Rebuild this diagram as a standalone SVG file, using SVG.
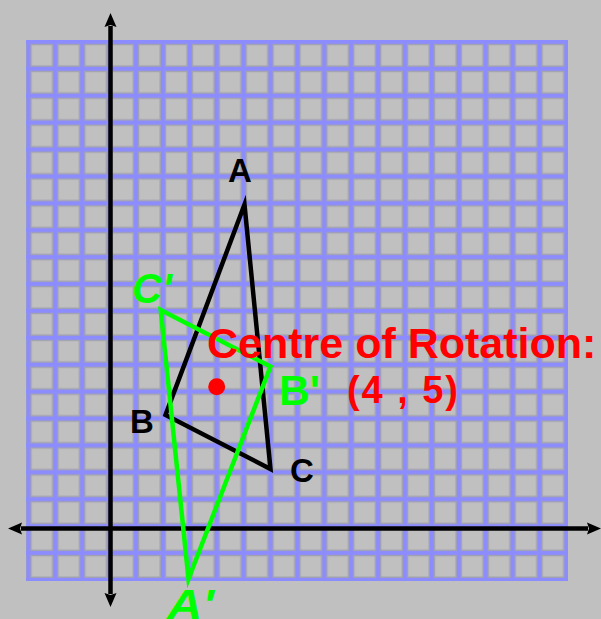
<svg xmlns="http://www.w3.org/2000/svg" width="601" height="619" viewBox="0 0 601 619">
<style>
.lbl{font-family:"Liberation Sans",Arial,sans-serif;font-weight:bold;}
.blk{fill:#000;font-size:33px;}
.grn{fill:#00ff00;font-size:42px;}
.it{font-style:italic;}
.red{fill:#ff0000;}
.axis{stroke:#000;stroke-width:4.5;fill:none;}
.tri{fill:none;stroke-width:4.5;stroke-linejoin:miter;stroke-miterlimit:10;}
</style>
<defs>
<pattern id="cell" x="26.5" y="40" width="26.9" height="26.9" patternUnits="userSpaceOnUse">
<rect x="0" y="0" width="26.9" height="26.9" fill="#8c8cff"/>
<rect x="4.5" y="4.5" width="21.6" height="21.6" fill="#c0c0c0" stroke="#a2a2b0" stroke-width="1.4"/>
</pattern>
<marker id="arr" markerUnits="userSpaceOnUse" markerWidth="16" markerHeight="16" refX="1" refY="7" orient="auto-start-reverse" viewBox="0 0 16 14">
<path d="M0,1 L14,7 L0,13 L2,7 Z" fill="#000"/>
</marker>
</defs>
<rect x="0" y="0" width="601" height="619" fill="#c0c0c0"/>
<g id="grid">
<rect x="26" y="40" width="542" height="541" fill="url(#cell)"/>
</g>
<g id="connectors">
<line id="y-axis" class="axis" x1="110.5" y1="26" x2="110.5" y2="594" marker-start="url(#arr)" marker-end="url(#arr)"/>
<line id="x-axis" class="axis" x1="21" y1="528.5" x2="588" y2="528.5" marker-start="url(#arr)" marker-end="url(#arr)"/>
<polygon id="triangle-ABC" class="tri" stroke="#000" points="244.5,204.5 165.5,415 270.5,469"/>
<polygon id="triangle-image" class="tri" stroke="#00ff00" stroke-width="5" points="160.7,310 270.5,366.5 188.5,579"/>
</g>
<g id="node-A"><text class="lbl blk" x="228" y="182">A</text></g>
<g id="node-B"><text class="lbl blk" x="130" y="433">B</text></g>
<g id="node-C"><text class="lbl blk" x="290" y="482">C</text></g>
<g id="node-Cp"><text class="lbl grn it" x="132" y="303" textLength="40" lengthAdjust="spacingAndGlyphs">C'</text></g>
<g id="node-Bp"><text class="lbl grn" x="279" y="405" textLength="41" lengthAdjust="spacingAndGlyphs" font-size="44">B'</text></g>
<g id="node-Ap"><text class="lbl grn it" x="167" y="619" textLength="47" lengthAdjust="spacingAndGlyphs">A'</text></g>
<g id="centre">
<circle cx="216.7" cy="386.7" r="8.5" fill="#ff0000"/>
<text class="lbl red" x="207" y="358" font-size="43">Centre of Rotation:</text>
<text class="lbl red" x="347" y="403" font-size="38" textLength="111" lengthAdjust="spacing">(4 , 5)</text>
</g>
</svg>
